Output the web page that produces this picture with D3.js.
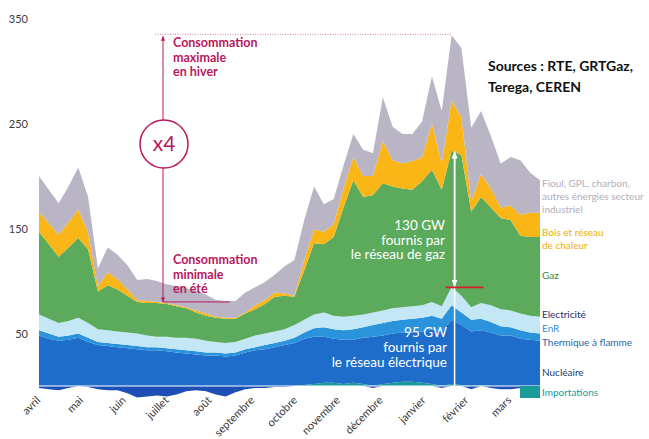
<!DOCTYPE html>
<html>
<head>
<meta charset="utf-8">
<script src="https://cdn.jsdelivr.net/npm/d3@7"></script>
<style>
  body { margin: 0; background: #fff; }
  svg { display: block; font-family: Lato, "Open Sans", sans-serif; }
</style>
</head>
<body>
<svg id="chart" width="649" height="439"></svg>
<script>
// weekly values (GW), april -> march
const months = ["avril", "mai", "juin", "juillet", "août", "septembre", "octobre",
  "novembre", "décembre", "janvier", "février", "mars"];
const yTicks = [50, 150, 250, 350];

const importations = [-2,-3,-4,-2,0,-1,-3,-4,-4,-7, -11,-10,-9,-10,-8,-5,-4,-5,-8,-10,
  -6,-3,-2,-2,-1,-1,0,1,2,3, 3,2,3,2,-2,2,3,4,4,3, 2,-2,2,1,-3,1,-2,-3,-3,-2, -3,-3];
const nucleaire = [48,45,43,44,46,42,39,38,37,36, 35,34,34,33,32,31,30,29,29,28,
  29,32,34,35,37,39,41,44,45,44, 42,42,41,44,47,46,47,47,47,49, 52,52,61,57,52,52,51,48,48,45, 44,43];
const thermique = [5,5,4,4,4,4,3,3,3,3, 3,3,3,3,3,3,3,3,3,3,
  3,3,3,4,4,4,5,6,8,9, 9,9,10,10,11,12,12,12,13,13, 13,12,14,12,11,11,10,9,8,8, 7,7];
const enr = [15,14,13,14,15,14,12,12,12,12, 12,11,10,11,11,12,12,11,10,10,
  10,10,11,11,11,11,12,12,13,14, 13,13,13,12,12,12,12,12,12,12, 13,12,17,16,12,15,16,16,16,16, 16,16];
const gaz = [79,71,63,70,76,70,36,43,40,35, 30,31,32,31,30,28,25,24,23,23,
  22,24,25,28,33,32,27,47,68,65, 75,104,129,112,112,121,116,113,111,118, 126,111,130,134,91,101,93,87,86,74, 75,76];
const bois = [19,20,21,24,27,16,5,12,10,6, 2,2,1,1,1,1,2,2,1,1,
  1,1,4,4,4,2,1,10,13,12, 12,18,22,20,18,40,25,24,27,23, 44,25,48,36,10,22,18,10,14,20, 23,23];
const fioul = [34,32,30,34,40,34,17,24,23,23, 19,21,20,18,18,18,19,18,16,16,
  16,19,17,17,17,26,34,38,41,26, 24,22,22,25,22,42,32,28,26,34, 45,50,62,66,70,60,50,42,46,52, 38,31];

const legend = [
  {lines: ["Fioul, GPL, charbon,", "autres énergies secteur", "industriel"], color: "#b3adbd", y: 187},
  {lines: ["Bois et réseau", "de chaleur"], color: "#f0ad00", y: 236},
  {lines: ["Gaz"], color: "#3a873d", y: 279},
  {lines: ["Electricité"], color: "#1b2f6e", y: 318},
  {lines: ["EnR"], color: "#2b8fe0", y: 332},
  {lines: ["Thermique à flamme"], color: "#1f66a8", y: 346},
  {lines: ["Nucléaire"], color: "#1b3a7a", y: 376},
  {lines: ["Importations"], color: "#1b9a9a", y: 396}
];

const svg = d3.select("#chart");
const pink = "#b8185d";

const rows = importations.map((v, i) => ({
  week: i,
  imp: Math.max(v, 0),
  nuc: nucleaire[i],
  therm: thermique[i],
  enr: enr[i],
  gaz: gaz[i],
  bois: bois[i],
  fioul: fioul[i]
}));

const keys = ["imp", "nuc", "therm", "enr", "gaz", "bois", "fioul"];
const colors = {
  imp: "#1b9a9a", nuc: "#1e6dca", therm: "#2a93dc", enr: "#c4e7f5",
  gaz: "#5cab5c", bois: "#fab616", fioul: "#bab5c5"
};

const x = d3.scaleLinear().domain([0, rows.length - 1]).range([39, 540]);
const y = d3.scaleLinear().domain([0, 350]).range([386, 18.5]);

const series = d3.stack().keys(keys)(rows);

const area = d3.area()
  .x(d => x(d.data.week))
  .y0(d => y(d[0]))
  .y1(d => y(d[1]));

svg.append("g")
  .selectAll("path")
  .data(series)
  .enter()
  .append("path")
  .attr("fill", d => colors[d.key])
  .attr("d", area);

// exports shown below zero
svg.append("path")
  .datum(importations)
  .attr("fill", "#1d4fb6")
  .attr("d", d3.area()
    .x((d, i) => x(i))
    .y0(y(0))
    .y1(d => y(Math.min(d, 0))));

// white baseline
svg.append("line")
  .attr("x1", x(0)).attr("x2", x(rows.length - 1))
  .attr("y1", y(0)).attr("y2", y(0))
  .attr("stroke", "#fff").attr("stroke-width", 1.2);

// y axis
const yAxis = svg.append("g")
  .attr("transform", "translate(30,0)")
  .call(d3.axisLeft(y).tickValues(yTicks).tickSize(0).tickPadding(2));
yAxis.select(".domain").remove();
yAxis.selectAll("text")
  .attr("font-family", "Lato, sans-serif")
  .attr("font-size", 11)
  .attr("fill", "#3a3a3a");

// month labels
const xm = d3.scalePoint().domain(months).range([41, 512]);
svg.append("g")
  .selectAll("text")
  .data(months)
  .enter()
  .append("text")
  .attr("transform", d => `translate(${xm(d)},401) rotate(-45)`)
  .attr("text-anchor", "end")
  .attr("font-size", 11)
  .attr("fill", "#3a3a3a")
  .text(d => d);

// markers
const defs = svg.append("defs");
[["arrPink", pink], ["arrWhite", "#fff"]].forEach(([id, c]) => {
  defs.append("marker")
    .attr("id", id)
    .attr("viewBox", "0 0 10 10")
    .attr("refX", 9).attr("refY", 5)
    .attr("markerWidth", 5).attr("markerHeight", 5)
    .attr("orient", "auto-start-reverse")
    .append("path")
    .attr("d", "M0,1L10,5L0,9Z")
    .attr("fill", c);
});

// consumption max / min annotation
const totals = rows.map(r => keys.reduce((s, k) => s + r[k], 0));
const peak = d3.maxIndex(totals);
const low = d3.minIndex(totals);
const ann = svg.append("g");
const ax = 163, cy = 144, r = 24;

ann.append("line")
  .attr("x1", 155).attr("x2", x(peak))
  .attr("y1", y(totals[peak]) - 1).attr("y2", y(totals[peak]) - 1)
  .attr("stroke", pink).attr("stroke-width", 0.8)
  .attr("stroke-dasharray", "1,1.5").attr("opacity", 0.7);

ann.append("line")
  .attr("x1", ax).attr("x2", ax)
  .attr("y1", cy - r).attr("y2", y(totals[peak]) + 1)
  .attr("stroke", pink).attr("stroke-width", 1)
  .attr("marker-end", "url(#arrPink)");

ann.append("line")
  .attr("x1", ax).attr("x2", ax)
  .attr("y1", cy + r).attr("y2", y(totals[low]) + 1)
  .attr("stroke", pink).attr("stroke-width", 1)
  .attr("marker-end", "url(#arrPink)");

ann.append("line")
  .attr("x1", ax).attr("x2", x(low) + 4)
  .attr("y1", y(totals[low]) + 1).attr("y2", y(totals[low]) + 1)
  .attr("stroke", pink).attr("stroke-width", 1);

ann.append("circle")
  .attr("cx", ax + 1).attr("cy", cy).attr("r", r)
  .attr("fill", "#fff").attr("stroke", pink).attr("stroke-width", 1.5);

ann.append("text")
  .attr("x", ax + 1).attr("y", cy + 7)
  .attr("text-anchor", "middle")
  .attr("font-size", 21)
  .attr("fill", pink)
  .text("x4");

function block(lines, xPos, yPos, step, opts) {
  const t = svg.append("text")
    .attr("x", xPos).attr("y", yPos)
    .attr("text-anchor", opts.anchor || "start")
    .attr("font-size", opts.size)
    .attr("font-weight", opts.weight || "normal")
    .attr("fill", opts.color);
  lines.forEach((l, i) => {
    t.append("tspan").attr("x", xPos).attr("y", yPos + i * step).text(l);
  });
}

block(["Consommation", "maximale", "en hiver"], 173, 47, 14.5,
  {size: 12.5, weight: "bold", color: pink});
block(["Consommation", "minimale", "en été"], 173, 264, 14.5,
  {size: 12.5, weight: "bold", color: pink});

// gas / electricity arrows at the peak
const elecPeak = rows[peak].imp + rows[peak].nuc + rows[peak].therm + rows[peak].enr;
const gasPeak = elecPeak + rows[peak].gaz;
const px = x(peak) + 3;

svg.append("line")
  .attr("x1", px).attr("x2", px)
  .attr("y1", y(0)).attr("y2", y(gasPeak) + 1)
  .attr("stroke", "#fff").attr("stroke-width", 1.5)
  .attr("marker-end", "url(#arrWhite)");
svg.append("line")
  .attr("x1", px).attr("x2", px)
  .attr("y1", y(gasPeak) + 6).attr("y2", y(elecPeak) - 1)
  .attr("stroke", "#fff").attr("stroke-width", 1.5)
  .attr("marker-end", "url(#arrWhite)");
svg.append("line")
  .attr("x1", px - 9).attr("x2", px + 29)
  .attr("y1", y(elecPeak)).attr("y2", y(elecPeak))
  .attr("stroke", "#d8202c").attr("stroke-width", 1.8);

block(["130 GW", "fournis par", "le réseau de gaz"], 445, 230, 14.5,
  {size: 13.5, anchor: "end", color: "#fff"});
block(["95 GW", "fournis par", "le réseau électrique"], 447, 337, 15,
  {size: 13.5, anchor: "end", color: "#fff"});

// sources
block(["Sources : RTE, GRTGaz,", "Terega, CEREN"], 488, 71, 21,
  {size: 14, weight: "bold", color: "#111"});

// legend
legend.forEach(l => block(l.lines, 542, l.y, 13, {size: 10, color: l.color}));
svg.append("rect")
  .attr("x", 520).attr("y", y(0)).attr("width", 20).attr("height", 12)
  .attr("fill", "#1b9a9a");
</script>
</body>
</html>
